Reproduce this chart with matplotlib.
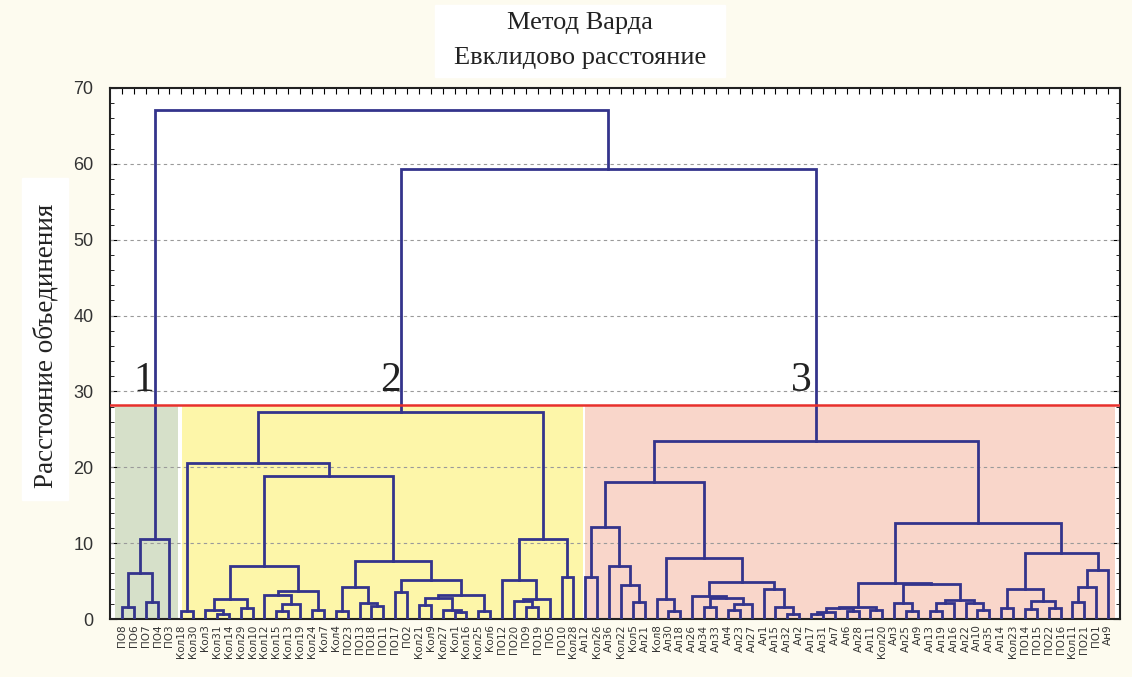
import numpy as np
import matplotlib as mpl
mpl.use('Agg')
import matplotlib.pyplot as plt
from matplotlib.patches import Rectangle

# Leaf labels, left to right
labels_g1 = ['ПО8', 'ПО6', 'ПО7', 'ПО4', 'ПО3']
labels_g2 = ['Кол18', 'Кол30', 'Кол3', 'Кол31', 'Кол14', 'Кол29', 'Кол10',
             'Кол12', 'Кол15', 'Кол13', 'Кол19', 'Кол24', 'Кол7', 'Кол4',
             'ПО23', 'ПО13', 'ПО18', 'ПО11', 'ПО17', 'ПО2', 'Кол21', 'Кол9',
             'Кол27', 'Кол1', 'Кол16', 'Кол25', 'Кол6', 'ПО12', 'ПО20', 'ПО9',
             'ПО19', 'ПО5', 'ПО10', 'Кол28']
labels_g3 = ['Ал12', 'Кол26', 'Ал36', 'Кол22', 'Кол5', 'Ал21', 'Кол8', 'Ал30',
             'Ал18', 'Ал26', 'Ал34', 'Ал33', 'Ал4', 'Ал23', 'Ал27', 'Ал1',
             'Ал15', 'Ал32', 'Ал2', 'Ал17', 'Ал31', 'Ал7', 'Ал6', 'Ал28',
             'Ал11', 'Кол20', 'Ал3', 'Ал25', 'Ал9', 'Ал13', 'Ал19', 'Ал16',
             'Ал22', 'Ал10', 'Ал35', 'Ал14', 'Кол23', 'ПО14', 'ПО15', 'ПО22',
             'ПО16', 'Кол11', 'ПО21', 'ПО1', 'Ан9']
labels = labels_g1 + labels_g2 + labels_g3

# Cluster trees: [height, left, right]; 'L' = leaf (taken in label order)
L = 'L'
tree_g1 = [10.5, [6.0, [1.6, L, L], [2.3, L, L]], L]

g2_a = [7.0, [2.6, [1.2, L, [0.7, L, L]], [1.4, L, L]],
        [3.7, [3.2, L, [2.0, [1.0, L, L], L]], [1.2, L, L]]]
g2_b = [7.7, [4.2, [1.0, L, L], [2.1, L, [1.7, L, L]]],
        [5.2, [3.6, L, L],
         [3.2, [2.8, [1.8, L, L], [1.2, L, [0.9, L, L]]], [1.0, L, L]]]]
g2_c = [10.5, [5.2, L, [2.6, [2.4, L, [1.6, L, L]], L]], [5.6, L, L]]
tree_g2 = [27.3, [20.6, [1.1, L, L], [18.9, g2_a, g2_b]], g2_c]

g3_a = [3.0, L, [2.8, [1.6, L, L], [2.0, [1.2, L, L], L]]]
g3_left = [18.1, [12.1, [5.6, L, L], [7.0, L, [4.5, L, [2.3, L, L]]]],
           [8.0, [2.6, L, [1.0, L, L]],
            [4.9, g3_a, [3.9, L, [1.6, L, [0.7, L, L]]]]]]
g3_x = [1.6, [1.4, [0.9, [0.6, L, L], L], [1.1, L, L]], [1.2, L, L]]
g3_z = [2.1, L, [1.0, L, L]]
g3_w = [2.5, [2.1, [1.0, L, L], L], [2.1, L, [1.2, L, L]]]
g3_right = [12.6, [4.8, g3_x, [4.6, g3_z, g3_w]],
            [8.7, [3.9, [1.5, L, L], [2.4, [1.3, L, L], [1.5, L, L]]],
             [6.4, [4.2, [2.2, L, L], L], L]]]
tree_g3 = [23.4, g3_left, g3_right]

tree = [67.1, tree_g1, [59.3, tree_g2, tree_g3]]

cut_height = 28.2
cluster_spans = [(0.4, 5.7), (6.05, 39.8), (40.0, 84.6)]
cluster_colors = ['#d6e0c9', '#fdf6a9', '#f9d6ca']
cluster_names = ['1', '2', '3']
cluster_name_x = [2.8, 23.6, 58.2]

LINE = '#34348c'

fig = plt.figure(figsize=(11.32, 6.77), dpi=100)
fig.patch.set_facecolor('#fdfbef')
ax = fig.add_axes([110/1132, 1-619/677, 1010/1132, 531/677])
ax.set_facecolor('white')

counter = [0]
def draw(node):
    if node == L:
        counter[0] += 1
        return counter[0], 0.0
    h, left, right = node
    xl, hl = draw(left)
    xr, hr = draw(right)
    ax.plot([xl, xl, xr, xr], [hl, h, h, hr], color=LINE, lw=2, zorder=4,
            solid_joinstyle='miter')
    return (xl + xr) / 2, h

for (x0, x1), c in zip(cluster_spans, cluster_colors):
    ax.fill_between([x0, x1], 0, cut_height, color=c, lw=0, zorder=1)

draw(tree)
n = len(labels)

ax.axhline(cut_height, color='#e8302c', lw=1.8, zorder=5)
for name, xn in zip(cluster_names, cluster_name_x):
    ax.text(xn, 28.9, name, fontsize=30, family='Liberation Serif',
            ha='center', va='bottom', color='#222222', zorder=6)

for yv in range(10, 70, 10):
    ax.axhline(yv, color='#9a9a9a', lw=0.8, ls=(0, (3, 3)), zorder=2)

ax.set_xlim(0, n + 1)
ax.set_ylim(0, 70)
ax.set_xticks(np.arange(1, n + 1))
ax.set_xticklabels(labels, rotation=90, fontsize=7.5, color='#333333',
                   family='DejaVu Sans')
ax.set_yticks(np.arange(0, 71, 10))
ax.set_yticks(np.arange(0, 71, 2), minor=True)
ax.tick_params(axis='x', direction='in', top=True, length=4, pad=4)
ax.tick_params(axis='y', which='major', direction='in', right=True, length=5,
               labelsize=13, labelcolor='#333333', pad=12)
ax.tick_params(axis='y', which='minor', direction='in', right=True, length=3)
for lab in ax.get_yticklabels():
    lab.set_family('Liberation Sans')
for s in ax.spines.values():
    s.set_linewidth(1.5)
    s.set_color('#222222')

# title block
fig.patches.append(Rectangle((435/1132, 1-77/677), 290/1132, 72/677,
                             transform=fig.transFigure, color='white', zorder=0))
fig.text(580/1132, 1-23/677, 'Метод Варда', ha='center', va='center',
         fontsize=19, family='Liberation Serif', color='#222222')
fig.text(580/1132, 1-58/677, 'Евклидово расстояние', ha='center', va='center',
         fontsize=19, family='Liberation Serif', color='#222222')

# y label block
fig.patches.append(Rectangle((22/1132, 1-500/677), 46/1132, 322/677,
                             transform=fig.transFigure, color='white', zorder=0))
fig.text(46/1132, 1-346/677, 'Расстояние объединения', rotation=90,
         ha='center', va='center', fontsize=19.5, family='Liberation Serif',
         color='#222222')

fig.savefig('out.png', dpi=100, facecolor=fig.get_facecolor())
